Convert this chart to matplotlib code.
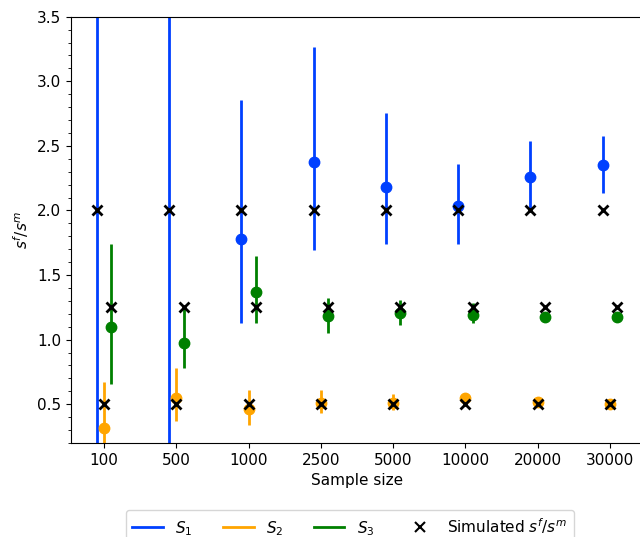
import numpy as np
import matplotlib
matplotlib.use('Agg')
import matplotlib.pyplot as plt
from matplotlib.lines import Line2D
from matplotlib.ticker import MultipleLocator

plt.rcParams['font.size'] = 11

# sample sizes (categorical x)
sample_sizes = ['100', '500', '1000', '2500', '5000', '10000', '20000', '30000']

# S1 estimates with lower / upper interval ends
s1_mean = [4.2, 4.2, 1.778, 2.378, 2.181, 2.031, 2.256, 2.349]
s1_low = [-1.0, -1.0, 1.131, 1.695, 1.744, 1.744, 2.0, 2.135]
s1_high = [9.0, 9.0, 2.853, 3.268, 2.756, 2.36, 2.538, 2.577]

# S2
s2_mean = [0.317, 0.552, 0.467, 0.513, 0.51, 0.552, 0.52, 0.505]
s2_low = [0.12, 0.371, 0.343, 0.436, 0.454, 0.51, 0.50, 0.49]
s2_high = [0.673, 0.777, 0.609, 0.609, 0.576, 0.57, 0.54, 0.52]

# S3
s3_mean = [1.095, 0.976, 1.372, 1.183, 1.204, 1.19, 1.178, 1.178]
s3_low = [0.656, 0.777, 1.131, 1.054, 1.113, 1.126, 1.165, 1.168]
s3_high = [1.742, 1.25, 1.649, 1.32, 1.307, 1.28, 1.19, 1.188]

# simulated true values
sim_s1 = 2.0
sim_s2 = 0.5
sim_s3 = 1.25

col_s1 = '#0040ff'
col_s2 = 'orange'
col_s3 = 'green'

x = np.arange(len(sample_sizes))
offset = 0.1

fig = plt.figure(figsize=(6.4, 5.37), dpi=100)
ax = fig.add_axes([71/640, (537-443)/537, (643-71)/640, (443-16.7)/537])

series = [(s1_mean, s1_low, s1_high, col_s1, -offset),
          (s2_mean, s2_low, s2_high, col_s2, 0.0),
          (s3_mean, s3_low, s3_high, col_s3, offset)]

for mean, low, high, col, off in series:
    mean = np.array(mean)
    yerr = [mean - np.array(low), np.array(high) - mean]
    ax.errorbar(x + off, mean, yerr=yerr, fmt='o', color=col,
                markersize=7.5, elinewidth=2, capsize=0)

for val, off in [(sim_s1, -offset), (sim_s2, 0.0), (sim_s3, offset)]:
    ax.plot(x + off, [val]*len(x), 'x', color='black',
            markersize=7, markeredgewidth=2, zorder=5)

ax.set_xticks(x)
ax.set_xticklabels(sample_sizes)
ax.set_ylim(0.2, 3.5)
ax.set_xlim(-0.46, 7.46)
ax.yaxis.set_minor_locator(MultipleLocator(0.1))
ax.set_xlabel('Sample size')
ax.set_ylabel('$s^f/s^m$')

handles = [Line2D([0], [0], color=col_s1, lw=2),
           Line2D([0], [0], color=col_s2, lw=2),
           Line2D([0], [0], color=col_s3, lw=2),
           Line2D([0], [0], color='black', marker='x', lw=0,
                  markersize=7, markeredgewidth=1.5)]
labels = ['$S_1$', '$S_2$', '$S_3$', 'Simulated $s^f/s^m$']
fig.legend(handles, labels, loc='upper center', ncol=4,
           bbox_to_anchor=(350/640, 1 - 510/537), borderaxespad=0,
           bbox_transform=fig.transFigure, columnspacing=2.0)

fig.savefig('out.png', dpi=100)
